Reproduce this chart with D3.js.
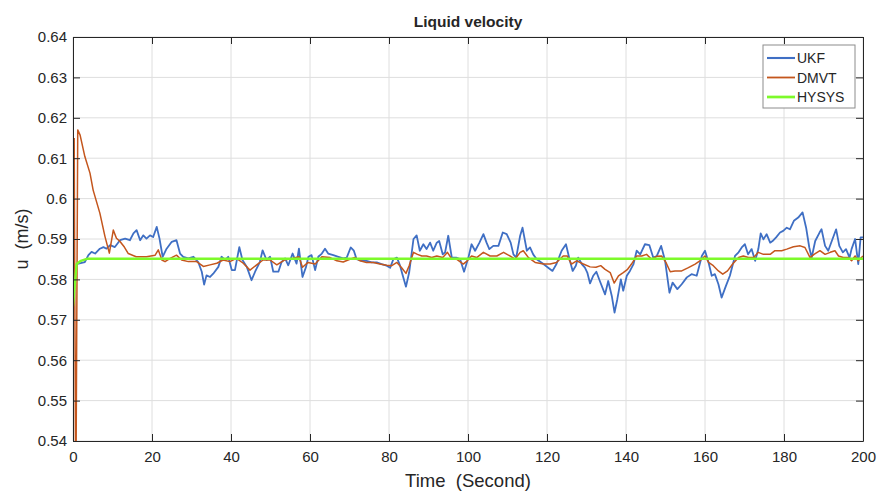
<!DOCTYPE html>
<html>
<head>
<meta charset="utf-8">
<script src="https://cdn.jsdelivr.net/npm/d3@7"></script>
<style>
  body { margin: 0; background: #fff; }
  text { font-family: "Liberation Sans", Arial, sans-serif; fill: #262626; }
</style>
</head>
<body>
<div id="chart"></div>
<script>
var width = 879,
    height = 494;

// values
var xTicks = [0, 20, 40, 60, 80, 100, 120, 140, 160, 180, 200];
var yTicks = [0.54, 0.55, 0.56, 0.57, 0.58, 0.59, 0.6, 0.61, 0.62, 0.63, 0.64];
var seriesNames = ["UKF", "DMVT", "HYSYS"];

var ukfTime = [0.9,1.4,3.0,3.9,4.7,5.6,6.8,7.7,8.5,9.4,10.6,11.9,13.2,14.4,15.3,16.1,17.0,17.8,18.6,19.5,
  20.3,21.2,21.9,22.7,23.7,25.0,26.2,27.1,27.9,29.2,30.5,31.7,32.6,33.2,33.8,34.7,35.5,36.8,37.6,38.5,
  39.3,40.2,41.0,42.1,42.9,44.0,45.2,46.1,47.3,48.0,49.0,49.9,50.7,52.0,52.8,53.7,54.5,55.6,56.6,57.2,
  58.1,59.0,59.6,60.4,61.3,62.1,63.0,63.8,64.6,65.9,67.2,68.4,69.3,70.3,71.1,71.8,73.1,74.3,75.6,76.9,
  78.1,79.4,80.3,81.1,82.0,82.8,83.5,84.3,85.1,85.7,86.2,87.0,87.8,88.7,89.5,90.4,91.2,92.1,92.7,93.6,
  94.2,95.0,95.9,97.0,98.0,99.0,100.1,100.9,101.8,102.9,103.9,104.7,105.4,106.4,107.7,108.8,109.8,110.8,111.5,112.2,
  113.2,113.8,114.9,115.7,116.5,117.4,119.1,120.3,121.4,122.4,123.7,124.8,125.7,126.5,127.3,127.9,128.8,129.6,130.2,130.9,
  131.7,132.5,133.3,134.7,135.5,136.4,137.1,137.8,138.7,139.3,140.2,141.0,141.9,142.7,143.6,144.8,145.9,146.9,147.8,148.9,
  149.9,151.0,151.8,153.0,154.1,155.4,156.6,157.9,159.2,160.0,160.9,161.7,162.5,163.4,164.2,165.3,166.3,167.6,168.5,169.3,
  170.1,170.9,171.8,172.7,173.5,174.1,174.8,175.6,176.5,177.1,178.0,179.0,179.8,180.7,181.5,182.5,183.6,184.7,185.6,186.4,
  187.0,187.9,189.0,189.5,190.4,191.2,192.1,193.2,194.0,194.9,195.7,196.6,197.1,198.0,198.8,199.4,200.0];
var ukfVel = [0.5838,0.5839,0.5843,0.5860,0.5868,0.5864,0.5876,0.5880,0.5876,0.5885,0.5880,0.5897,0.5901,0.5897,0.5914,0.5922,0.5897,0.5909,0.5901,0.5909,
  0.5905,0.5930,0.5901,0.5856,0.5876,0.5893,0.5897,0.5864,0.5856,0.5852,0.5856,0.5843,0.5819,0.5787,0.5810,0.5806,0.5814,0.5831,0.5856,0.5848,
  0.5856,0.5823,0.5823,0.5880,0.5848,0.5831,0.5798,0.5819,0.5843,0.5872,0.5848,0.5856,0.5819,0.5819,0.5843,0.5852,0.5835,0.5864,0.5839,0.5876,
  0.5806,0.5831,0.5856,0.5860,0.5823,0.5856,0.5864,0.5876,0.5864,0.5860,0.5856,0.5852,0.5854,0.5879,0.5871,0.5850,0.5846,0.5846,0.5842,0.5842,
  0.5838,0.5834,0.5829,0.5850,0.5854,0.5834,0.5809,0.5782,0.5817,0.5862,0.5900,0.5909,0.5871,0.5887,0.5875,0.5891,0.5871,0.5891,0.5895,0.5862,
  0.5867,0.5908,0.5854,0.5854,0.5850,0.5819,0.5854,0.5887,0.5871,0.5891,0.5912,0.5891,0.5875,0.5883,0.5883,0.5916,0.5912,0.5891,0.5862,0.5854,
  0.5908,0.5928,0.5871,0.5879,0.5862,0.5850,0.5838,0.5829,0.5821,0.5838,0.5871,0.5887,0.5850,0.5821,0.5834,0.5854,0.5838,0.5829,0.5817,0.5790,
  0.5809,0.5819,0.5798,0.5763,0.5796,0.5759,0.5718,0.5751,0.5800,0.5772,0.5809,0.5821,0.5838,0.5871,0.5862,0.5887,0.5885,0.5854,0.5858,0.5883,
  0.5846,0.5767,0.5792,0.5776,0.5788,0.5805,0.5813,0.5809,0.5858,0.5871,0.5842,0.5809,0.5813,0.5788,0.5755,0.5784,0.5809,0.5858,0.5867,0.5879,
  0.5887,0.5862,0.5875,0.5846,0.5875,0.5914,0.5899,0.5912,0.5891,0.5895,0.5904,0.5916,0.5920,0.5928,0.5924,0.5945,0.5953,0.5966,0.5928,0.5879,
  0.5854,0.5895,0.5916,0.5924,0.5883,0.5871,0.5895,0.5924,0.5883,0.5867,0.5875,0.5854,0.5875,0.5900,0.5838,0.5904,0.5904];

var dmvtTime = [0.3,0.7,1.2,1.8,3.0,4.3,5.1,6.8,8.1,9.2,10.2,11.0,11.9,13.0,14.0,16.0,18.6,20.8,21.6,22.5,
  23.3,24.6,26.2,27.5,29.2,31.3,33.0,34.7,36.4,38.0,39.7,41.4,43.1,44.8,46.5,48.1,49.9,51.6,53.5,55.5,
  57.2,58.1,59.5,61.3,63.0,65.1,66.8,68.4,70.1,71.4,72.7,74.3,76.0,77.7,79.4,80.7,82.0,83.2,84.3,85.1,
  86.2,87.2,88.3,89.5,90.8,92.1,93.6,94.8,95.9,97.1,98.8,99.8,100.9,102.2,103.9,105.6,107.3,109.0,110.6,111.9,
  113.2,114.0,115.3,117.0,119.1,120.8,122.4,124.1,125.1,126.2,127.5,129.2,130.9,132.4,133.6,134.7,136.0,137.0,138.1,139.3,
  140.4,141.4,142.7,144.0,145.2,146.5,147.8,149.0,150.1,151.2,152.4,154.1,155.8,157.5,158.7,160.0,160.9,162.1,163.4,164.5,
  165.7,167.0,168.5,169.7,171.0,172.3,173.5,174.8,176.5,177.7,179.4,180.7,182.4,184.1,185.3,186.6,187.6,189.1,190.4,191.7,
  192.9,193.8,195.0,196.3,197.1,198.0,198.8,200.0];
var dmvtVel = [0.6150,0.5200,0.6170,0.6157,0.6104,0.6063,0.6021,0.5964,0.5906,0.5865,0.5922,0.5902,0.5894,0.5880,0.5864,0.5856,0.5856,0.5860,0.5873,0.5848,
  0.5844,0.5852,0.5860,0.5848,0.5844,0.5844,0.5832,0.5836,0.5840,0.5848,0.5844,0.5852,0.5840,0.5823,0.5836,0.5848,0.5848,0.5836,0.5848,0.5852,
  0.5856,0.5830,0.5842,0.5838,0.5856,0.5854,0.5846,0.5843,0.5850,0.5854,0.5846,0.5842,0.5842,0.5838,0.5835,0.5834,0.5842,0.5829,0.5815,0.5834,
  0.5867,0.5862,0.5858,0.5858,0.5854,0.5858,0.5854,0.5867,0.5850,0.5850,0.5838,0.5846,0.5858,0.5854,0.5867,0.5858,0.5858,0.5867,0.5858,0.5850,
  0.5867,0.5871,0.5854,0.5842,0.5838,0.5838,0.5842,0.5858,0.5858,0.5838,0.5846,0.5838,0.5831,0.5830,0.5834,0.5825,0.5817,0.5791,0.5809,0.5817,
  0.5825,0.5838,0.5858,0.5858,0.5862,0.5850,0.5857,0.5858,0.5842,0.5819,0.5821,0.5821,0.5829,0.5838,0.5846,0.5858,0.5842,0.5834,0.5821,0.5813,
  0.5821,0.5838,0.5854,0.5858,0.5854,0.5854,0.5867,0.5862,0.5862,0.5871,0.5871,0.5875,0.5881,0.5883,0.5879,0.5854,0.5862,0.5871,0.5862,0.5867,
  0.5871,0.5858,0.5854,0.5854,0.5846,0.5858,0.5846,0.5858];

var hysysTime = [0, 0.9, 2, 3.5, 200];
var hysysVel = [0.5733, 0.5838, 0.5846, 0.5851, 0.5851];

var colors = ["#3f6fc4", "#c4561d", "#7dfa2a"];
var widths = [1.8, 1.5, 2.4];

var margin = {top: 37, right: 16, bottom: 53, left: 73};
var w = width - margin.left - margin.right,
    h = height - margin.top - margin.bottom;

var svg = d3.select("#chart").append("svg")
    .attr("width", width)
    .attr("height", height);

var g = svg.append("g")
    .attr("transform", "translate(" + margin.left + "," + margin.top + ")");

var x = d3.scaleLinear().domain([0, 200]).range([0, w]);
var y = d3.scaleLinear().domain([0.54, 0.64]).range([h, 0]);

// grid
g.append("g").selectAll("line").data(xTicks).join("line")
    .attr("x1", d => x(d)).attr("x2", d => x(d))
    .attr("y1", 0).attr("y2", h)
    .attr("stroke", "#dedede").attr("stroke-width", 1);
g.append("g").selectAll("line").data(yTicks).join("line")
    .attr("x1", 0).attr("x2", w)
    .attr("y1", d => y(d)).attr("y2", d => y(d))
    .attr("stroke", "#dedede").attr("stroke-width", 1);

// lines
g.append("clipPath").attr("id", "clip")
  .append("rect").attr("width", w).attr("height", h);

var line = d3.line().x(d => x(d[0])).y(d => y(d[1]));
var series = [
  d3.zip(ukfTime, ukfVel),
  d3.zip(dmvtTime, dmvtVel),
  d3.zip(hysysTime, hysysVel)
];
[0, 1, 2].forEach(function(i) {
  g.append("path")
    .datum(series[i])
    .attr("clip-path", "url(#clip)")
    .attr("fill", "none")
    .attr("stroke", colors[i])
    .attr("stroke-width", widths[i])
    .attr("stroke-linejoin", "round")
    .attr("d", line);
});

// axes, matlab style box with ticks inside
var xAxis = d3.axisBottom(x).tickValues(xTicks).tickSizeInner(-7).tickSizeOuter(0).tickPadding(10);
var yAxis = d3.axisLeft(y).tickValues(yTicks).tickSizeInner(-7).tickSizeOuter(0).tickPadding(6)
    .tickFormat(d3.format("~g"));

var gx = g.append("g").attr("transform", "translate(0," + h + ")").call(xAxis);
var gy = g.append("g").call(yAxis);
g.append("g").call(d3.axisTop(x).tickValues(xTicks).tickSizeInner(-7).tickSizeOuter(0).tickFormat(""));
g.append("g").attr("transform", "translate(" + w + ",0)")
  .call(d3.axisRight(y).tickValues(yTicks).tickSizeInner(-7).tickSizeOuter(0).tickFormat(""));

g.selectAll(".domain").attr("stroke", "#262626").attr("stroke-width", 1);
g.selectAll(".tick line").attr("stroke", "#262626");
gx.selectAll("text").style("font-size", "15px").attr("fill", "#262626");
gy.selectAll("text").style("font-size", "15px").attr("fill", "#262626");

// title and labels
svg.append("text")
    .attr("x", margin.left + w / 2)
    .attr("y", 27)
    .attr("text-anchor", "middle")
    .style("font-size", "15.5px")
    .style("font-weight", "bold")
    .text("Liquid velocity");

svg.append("text")
    .attr("x", margin.left + w / 2)
    .attr("y", 487)
    .attr("text-anchor", "middle")
    .style("font-size", "18.5px")
    .attr("xml:space", "preserve")
    .text("Time  (Second)");

svg.append("text")
    .attr("transform", "translate(28," + (margin.top + h / 2) + ") rotate(-90)")
    .attr("text-anchor", "middle")
    .style("font-size", "18px")
    .attr("xml:space", "preserve")
    .text("u  (m/s)");

// legend
var leg = svg.append("g").attr("transform", "translate(763,45)");
leg.append("rect")
    .attr("width", 92).attr("height", 63)
    .attr("fill", "#fff")
    .attr("stroke", "#8c8c8c").attr("stroke-width", 1);
seriesNames.forEach(function(name, i) {
  var yy = 13 + i * 19.5;
  leg.append("line")
    .attr("x1", 4).attr("x2", 32)
    .attr("y1", yy).attr("y2", yy)
    .attr("stroke", colors[i]).attr("stroke-width", widths[i] + 0.3);
  leg.append("text")
    .attr("x", 34).attr("y", yy + 5)
    .style("font-size", "14px")
    .text(name);
});
</script>
</body>
</html>
